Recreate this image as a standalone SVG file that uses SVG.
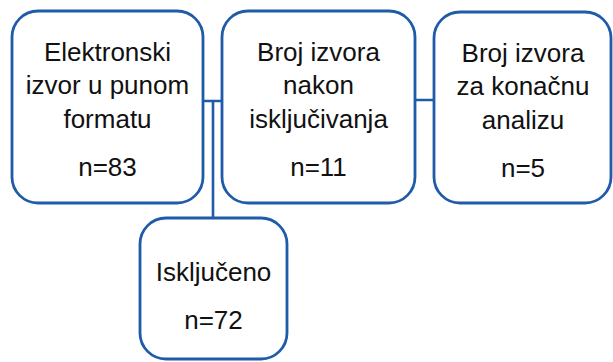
<svg xmlns="http://www.w3.org/2000/svg" width="613" height="362" viewBox="0 0 613 362">
<style>
.box{fill:#fff;stroke:#1F5BA8;stroke-width:2.8}
.ln{fill:none;stroke:#1F5BA8;stroke-width:2.6}
text{font-family:"Liberation Sans",Arial,sans-serif;font-size:26px;fill:#111;text-anchor:middle}
</style>
<rect width="613" height="362" fill="#fff"/>
<g id="connectors">
<path class="ln" d="M203,101 H222 M213,101 V218 M415,100 H434"/>
</g>
<g id="n1">
<rect class="box" x="12" y="11" width="191" height="192" rx="26"/>
<text x="107.5" y="61">Elektronski</text>
<text x="107.5" y="94">izvor u punom</text>
<text x="107.5" y="128">formatu</text>
<text x="107.5" y="176">n=83</text>
</g>
<g id="n2">
<rect class="box" x="222" y="11" width="193" height="192" rx="26"/>
<text x="318.5" y="61">Broj izvora</text>
<text x="318.5" y="94">nakon</text>
<text x="318.5" y="128">isključivanja</text>
<text x="318.5" y="176">n=11</text>
</g>
<g id="n3">
<rect class="box" x="434" y="12" width="177" height="191" rx="26"/>
<text x="523" y="62">Broj izvora</text>
<text x="523" y="95">za konačnu</text>
<text x="523" y="129">analizu</text>
<text x="523" y="177">n=5</text>
</g>
<g id="n4">
<rect class="box" x="140" y="218" width="147" height="141" rx="26"/>
<text x="213.5" y="281">Isključeno</text>
<text x="213.5" y="329">n=72</text>
</g>
</svg>
